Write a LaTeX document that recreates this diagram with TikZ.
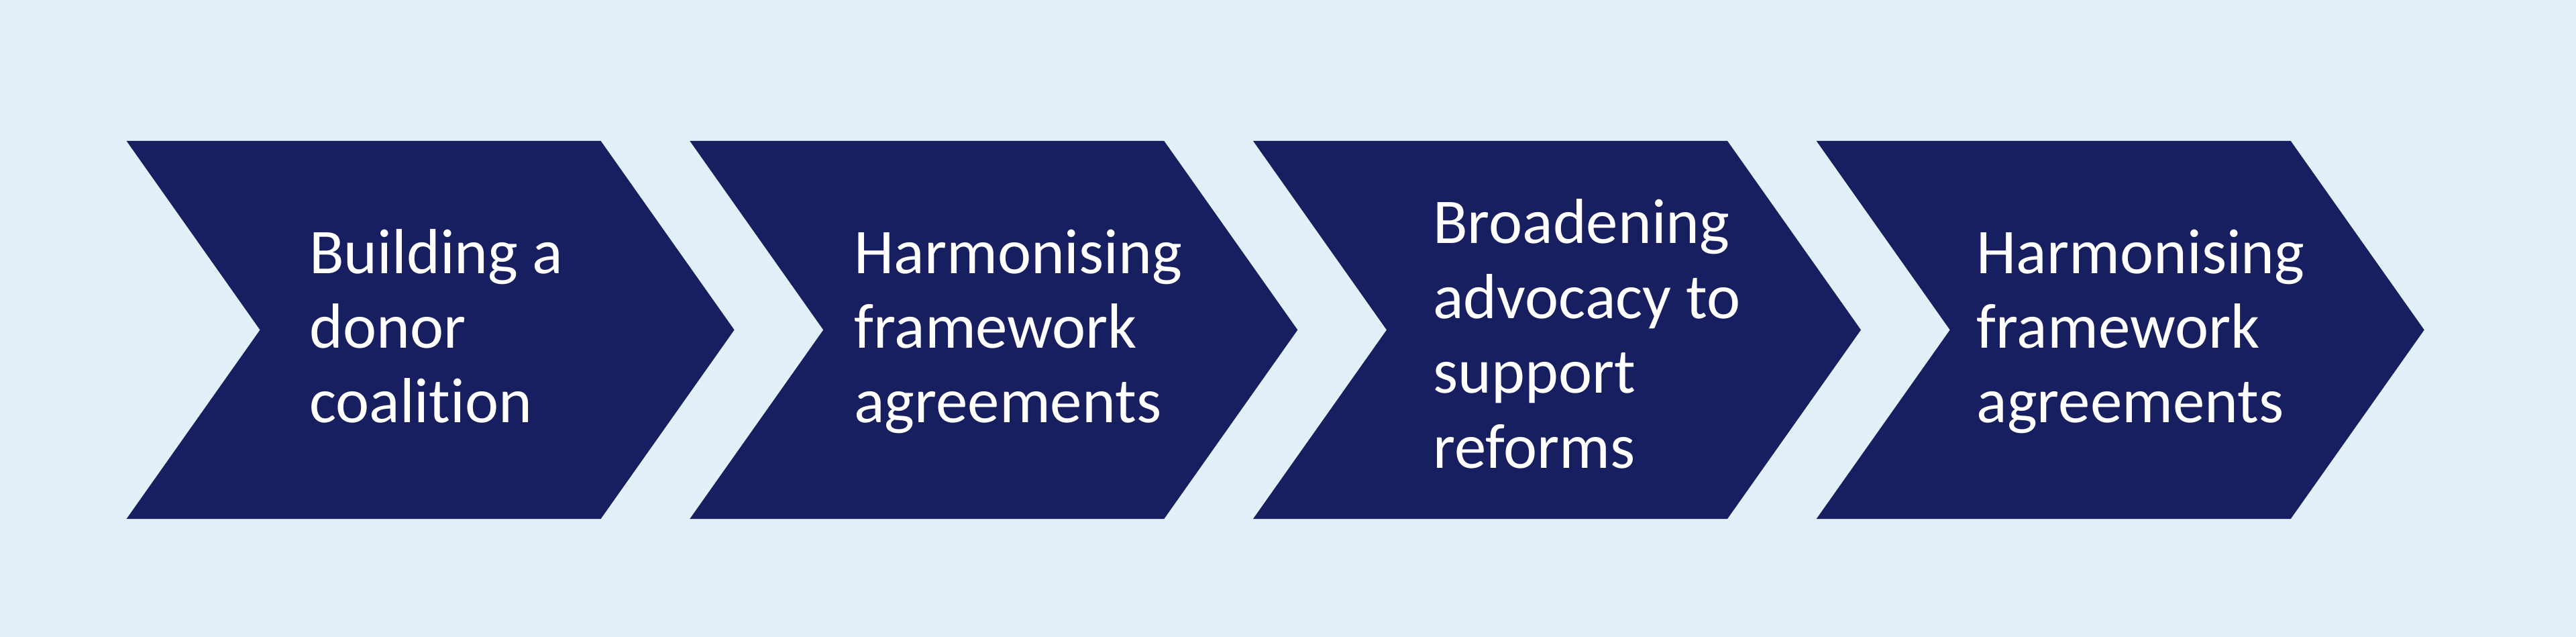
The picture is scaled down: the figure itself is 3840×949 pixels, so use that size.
\documentclass[tikz,border=0pt]{standalone}
\usepackage{fontspec}
\setmainfont[Ligatures=NoCommon]{Carlito}
\definecolor{bgblue}{RGB}{227,240,250}
\definecolor{navy}{RGB}{23,31,96}
\tikzset{
  chev/.style={fill=navy, draw=none},
  lbl/.style={text=white, inner sep=0pt, anchor=base west,
    font=\fontsize{27}{31.67}\selectfont}
}
\newcommand{\chevronat}[1]{%
  \fill[chev] (#1,210) -- ++(707,0) -- ++(199,281.5) -- ++(-199,281.5) -- ++(-707,0) -- ++(199,-281.5) -- cycle;}
\begin{document}
\begin{tikzpicture}[x=0.01cm,y=-0.01cm]
  \fill[bgblue] (0,0) rectangle (3840,949);
  \useasboundingbox (0,0) rectangle (3840,949);
  \chevronat{188.6}
  \chevronat{1028.3}
  \chevronat{1868}
  \chevronat{2707.7}
  \node[lbl] (t1) at (460.6,407) {\begin{tabular}[t]{@{}l@{}}Building a\\donor\\coalition\end{tabular}};
  \node[lbl] (t2) at (1272.7,407) {\begin{tabular}[t]{@{}l@{}}Harmonising\\framework\\agreements\end{tabular}};
  \node[lbl] (t3) at (2135.6,363) {\begin{tabular}[t]{@{}l@{}}Broadening\\advocacy to\\support\\reforms\end{tabular}};
  \node[lbl] (t4) at (2946,407) {\begin{tabular}[t]{@{}l@{}}Harmonising\\framework\\agreements\end{tabular}};
\end{tikzpicture}
\end{document}
